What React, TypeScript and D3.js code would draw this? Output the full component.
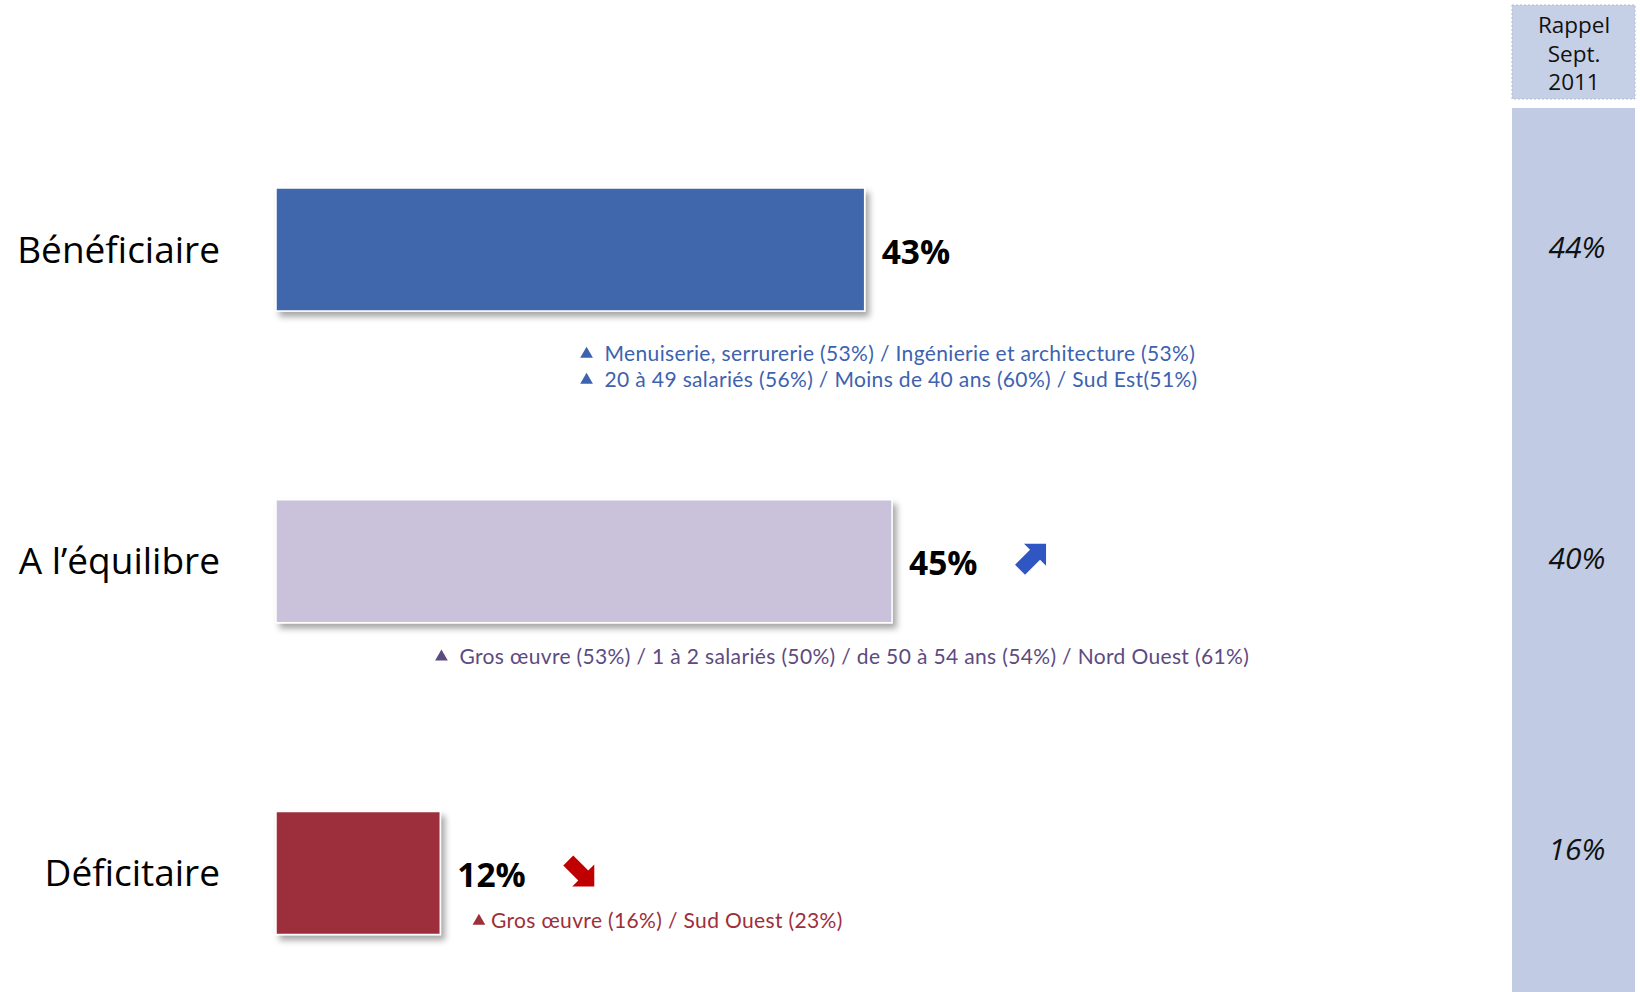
import { useMemo } from "react";
import * as d3 from "d3";

const categories = ["Bénéficiaire", "A l’équilibre", "Déficitaire"];
const values = [43, 45, 12];
const rappel = ["44%", "40%", "16%"];
const trends = [null, "up", "down"] as const;
const notes = [
  [
    "Menuiserie, serrurerie (53%) / Ingénierie et architecture (53%)",
    "20 à 49 salariés (56%) / Moins de 40 ans (60%) / Sud Est(51%)",
  ],
  ["Gros œuvre (53%) / 1 à 2 salariés (50%) / de 50 à 54 ans (54%) / Nord Ouest (61%)"],
  ["Gros œuvre (16%) / Sud Ouest (23%)"],
];
const rappelHeader = ["Rappel", "Sept.", "2011"];

const barColors = ["#3f66ab", "#cac1db", "#9d2f3a"];
const noteColors = ["#3c62b0", "#5d4a80", "#9d2f3a"];
// where each note block starts (in % of the value axis) and how far below the bar centre
const noteStart = [24, 13.4, 15.7];
const noteDy = [111.5, 102.5, 55];

const W = 1640;
const H = 992;
const FONT = "'Open Sans', sans-serif";
const NOTE_FONT = "Lato, sans-serif";

function Arrow({ x, y, dir }: { x: number; y: number; dir: "up" | "down" }) {
  // block arrow pointing top-right, mirrored for the down variant
  const pts: Array<[number, number]> = [
    [10, 0], [32, 0], [32, 22], [26, 16], [11, 31], [1, 21], [16, 6],
  ];
  const p = pts.map(([a, b]) => [a, dir === "up" ? b : 31 - b].join(",")).join(" ");
  return (
    <polygon
      transform={`translate(${x},${y - 15.5})`}
      points={p}
      fill={dir === "up" ? "#2f56c2" : "#c00000"}
    />
  );
}

export default function App() {
  const x = useMemo(() => d3.scaleLinear().domain([0, 100]).range([276, 1645]), []);
  const y = useMemo(() => d3.scalePoint<string>().domain(categories).range([249.5, 873]), []);
  const barH = 123;

  return (
    <svg
      width={W}
      height={H}
      viewBox={`0 0 ${W} ${H}`}
      style={{ position: "absolute", left: 0, top: 0, background: "#fff" }}
    >
      <defs>
        <filter id="shadow" x="-10%" y="-20%" width="130%" height="150%">
          <feDropShadow dx="4" dy="5" stdDeviation="3" floodColor="#000" floodOpacity="0.35" />
        </filter>
      </defs>

      {/* Rappel Sept. 2011 column */}
      <rect
        x={1512}
        y={5}
        width={123}
        height={94}
        fill="#c5d0e6"
        stroke="#b8bcc6"
        strokeWidth={1}
        strokeDasharray="2,2"
      />
      {rappelHeader.map((t, i) => (
        <text
          key={t}
          x={1574}
          y={33 + i * 28.5}
          textAnchor="middle"
          fontFamily={FONT}
          fontSize={22.5}
          fill="#111"
        >
          {t}
        </text>
      ))}
      <rect x={1512} y={108} width={123} height={H - 108} fill="#c1cce4" />

      {categories.map((c, i) => {
        const cy = y(c)!;
        const v = values[i];
        const labelX = x(v) + 17;
        const trend = trends[i];
        return (
          <g key={c}>
            <text
              x={220}
              y={cy + 13}
              textAnchor="end"
              fontFamily={FONT}
              fontSize={37}
              fill="#000"
            >
              {c}
            </text>
            <rect
              x={x(0)}
              y={cy - barH / 2}
              width={x(v) - x(0)}
              height={barH}
              fill={barColors[i]}
              stroke="#fff"
              strokeWidth={1.5}
              filter="url(#shadow)"
            />
            <text
              x={labelX}
              y={cy + 14}
              fontFamily={FONT}
              fontWeight={700}
              fontSize={33.5}
              fill="#000"
            >
              {v}%
            </text>
            {trend && <Arrow x={labelX + 105} y={cy - 2} dir={trend} />}
            {notes[i].map((n, j) => {
              const nx = x(noteStart[i]);
              const ny = cy + noteDy[i] + j * 26;
              return (
                <g key={j} fill={noteColors[i]}>
                  <path
                    d={d3.symbol(d3.symbolTriangle, 70)() ?? ""}
                    transform={`translate(${nx - (i === 2 ? 12 : 18)},${ny - 7})`}
                  />
                  <text
                    x={nx}
                    y={ny}
                    fontFamily={NOTE_FONT}
                    fontSize={21}
                    letterSpacing={0.35}
                  >
                    {n}
                  </text>
                </g>
              );
            })}
            <text
              x={1577}
              y={cy + (i === 2 ? -13 : 8)}
              textAnchor="middle"
              fontFamily={FONT}
              fontStyle="italic"
              fontSize={30}
              fill="#111"
            >
              {rappel[i]}
            </text>
          </g>
        );
      })}
    </svg>
  );
}
